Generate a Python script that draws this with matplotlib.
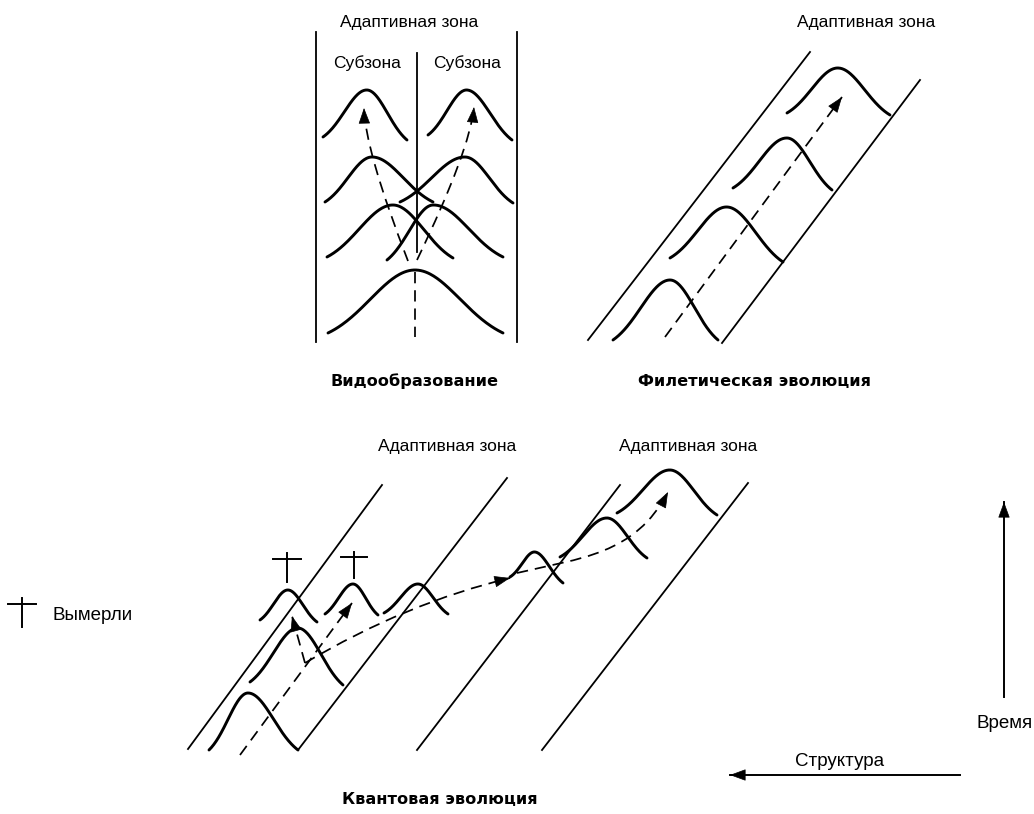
#!/usr/bin/env python3

# Modes of evolution: speciation, phyletic evolution and quantum evolution.

import numpy as np
import matplotlib
matplotlib.use("Agg")
import matplotlib.pyplot as plt
from matplotlib import font_manager
from matplotlib.path import Path
from matplotlib.patches import PathPatch

W, H = 1034, 814

# zone boundary lines, picture pixels (y grows downward)
zone_x0 = [316, 517, 417, 588, 722, 188, 298, 417, 542]
zone_y0 = [32, 32, 53, 340, 343, 749, 750, 750, 750]
zone_x1 = [316, 517, 417, 810, 920, 382, 507, 620, 748]
zone_y1 = [342, 342, 252, 52, 80, 485, 478, 485, 483]

# bell curves (population distributions): left end, peak, right end
bell_lx = [323, 428, 325, 400, 327, 387, 328,
           613, 670, 733, 787,
           209, 250, 260, 325, 384, 510, 560, 617]
bell_ly = [137, 135, 202, 202, 257, 260, 333,
           340, 258, 188, 113,
           750, 682, 620, 614, 613, 577, 557, 513]
bell_px = [367, 467, 372, 465, 393, 433, 415,
           670, 727, 787, 838,
           248, 298, 288, 353, 418, 535, 607, 670]
bell_py = [90, 90, 157, 157, 205, 205, 270,
           280, 207, 138, 68,
           693, 628, 590, 584, 584, 552, 518, 470]
bell_rx = [407, 512, 433, 513, 453, 503, 503,
           718, 783, 832, 890,
           298, 343, 317, 378, 448, 563, 647, 717]
bell_ry = [140, 140, 202, 203, 258, 257, 333,
           340, 262, 190, 115,
           750, 685, 622, 615, 614, 583, 558, 515]

# straight dashed trends: start, end, arrow at end?
dash_x0 = [415, 665, 240, 305]
dash_y0 = [272, 337, 755, 663]
dash_x1 = [415, 842, 352, 292]
dash_y1 = [337, 97, 603, 616]
dash_arrow = [False, True, True, True]

# curved dashed trends (quadratic): start, control, end (all with arrows)
quad_x = [(408, 365, 364), (417, 470, 474), (305, 406, 510)]
quad_y = [(261, 150, 108), (260, 150, 107), (663, 603, 578)]

# curved dashed trend (cubic), quantum shift into the new zone
cub_x = (517, 580, 635, 668)
cub_y = (573, 558, 555, 492)

# extinction crosses: centre x, top, bottom, bar y, bar half width
cross_x = [287, 354, 22]
cross_top = [553, 552, 598]
cross_bot = [582, 578, 627]
cross_bar = [559, 557, 604]
cross_half = [14, 13, 14]

# axis arrows: time and structure
axis_x0 = [1004, 960]
axis_y0 = [697, 775]
axis_x1 = [1004, 730]
axis_y1 = [502, 775]

zone_labels = ["Адаптивная зона", "Адаптивная зона",
               "Адаптивная зона", "Адаптивная зона",
               "Субзона", "Субзона"]
zone_label_x = [409, 866, 447, 688, 367, 467]
zone_label_y = [22, 22, 447, 447, 63, 63]

titles = ["Видообразование", "Филетическая эволюция", "Квантовая эволюция"]
title_x = [414, 755, 440]
title_y = [381, 382, 799]


names = {f.name for f in font_manager.fontManager.ttflist}
if "Liberation Sans Narrow" in names:
    NARROW = "Liberation Sans Narrow"
else:
    NARROW = "Liberation Sans"


def bell(ax, xl, yl, xp, yp, xr, yr):
    k = 1.95
    x = np.linspace(xl, xr, 150)
    sig = np.where(x < xp, (xp - xl) / k, (xr - xp) / k)
    g = np.exp(-0.5 * ((x - xp) / sig) ** 2)
    g0 = np.exp(-0.5 * k * k)
    g = (g - g0) / (1 - g0)
    base = yl + (yr - yl) * (x - xl) / (xr - xl)
    bp = yl + (yr - yl) * (xp - xl) / (xr - xl)
    ax.plot(x, base - (bp - yp) * g, color="black", lw=2.1,
            solid_capstyle="round")


def head(ax, tip, back):
    # small filled arrow head at tip, pointing away from back
    d = np.array(tip, float) - np.array(back, float)
    d = d / np.hypot(*d)
    start = np.array(tip) - d * 2
    ax.annotate("", xy=tip, xytext=start,
                arrowprops=dict(arrowstyle="-|>,head_length=0.6,head_width=0.22",
                                mutation_scale=17, color="black", lw=0.5,
                                shrinkA=0, shrinkB=0))


DASH = (0, (6.5, 4))

fig = plt.figure(figsize=(W / 100, H / 100), dpi=100)
ax = fig.add_axes([0, 0, 1, 1])
ax.set_xlim(0, W)
ax.set_ylim(H, 0)
ax.axis("off")

for i in range(len(zone_x0)):
    ax.plot([zone_x0[i], zone_x1[i]], [zone_y0[i], zone_y1[i]],
            color="black", lw=1.3)

for i in range(len(bell_lx)):
    bell(ax, bell_lx[i], bell_ly[i], bell_px[i], bell_py[i],
         bell_rx[i], bell_ry[i])

for i in range(len(dash_x0)):
    ax.plot([dash_x0[i], dash_x1[i]], [dash_y0[i], dash_y1[i]],
            color="black", lw=1.25, linestyle=DASH)
    if dash_arrow[i]:
        head(ax, (dash_x1[i], dash_y1[i]), (dash_x0[i], dash_y0[i]))

for qx, qy in zip(quad_x, quad_y):
    verts = list(zip(qx, qy))
    p = Path(verts, [Path.MOVETO, Path.CURVE3, Path.CURVE3])
    ax.add_patch(PathPatch(p, fill=False, color="black", lw=1.25,
                           linestyle=DASH))
    head(ax, verts[2], verts[1])

verts = list(zip(cub_x, cub_y))
p = Path(verts, [Path.MOVETO, Path.CURVE4, Path.CURVE4, Path.CURVE4])
ax.add_patch(PathPatch(p, fill=False, color="black", lw=1.25, linestyle=DASH))
head(ax, verts[3], verts[2])

for i in range(len(cross_x)):
    ax.plot([cross_x[i], cross_x[i]], [cross_top[i], cross_bot[i]],
            color="black", lw=1.4)
    ax.plot([cross_x[i] - cross_half[i], cross_x[i] + cross_half[i]],
            [cross_bar[i], cross_bar[i]], color="black", lw=1.4)

for i in range(len(axis_x0)):
    ax.plot([axis_x0[i], axis_x1[i]], [axis_y0[i], axis_y1[i]],
            color="black", lw=1.4)
    head(ax, (axis_x1[i], axis_y1[i]), (axis_x0[i], axis_y0[i]))

for t, x, y in zip(zone_labels, zone_label_x, zone_label_y):
    ax.text(x, y, t, ha="center", va="center", family=NARROW, fontsize=12.5)

for t, x, y in zip(titles, title_x, title_y):
    ax.text(x, y, t, ha="center", va="center", family="DejaVu Sans",
            fontweight="bold", fontsize=11.6)

ax.text(53, 616, "Вымерли", ha="left", va="center", family=NARROW,
        fontsize=13.5)
ax.text(1005, 724, "Время", ha="center", va="center", family=NARROW,
        fontsize=13.5)
ax.text(840, 762, "Структура", ha="center", va="center", family=NARROW,
        fontsize=13.5)

fig.savefig("out.png", dpi=100, facecolor="white")
